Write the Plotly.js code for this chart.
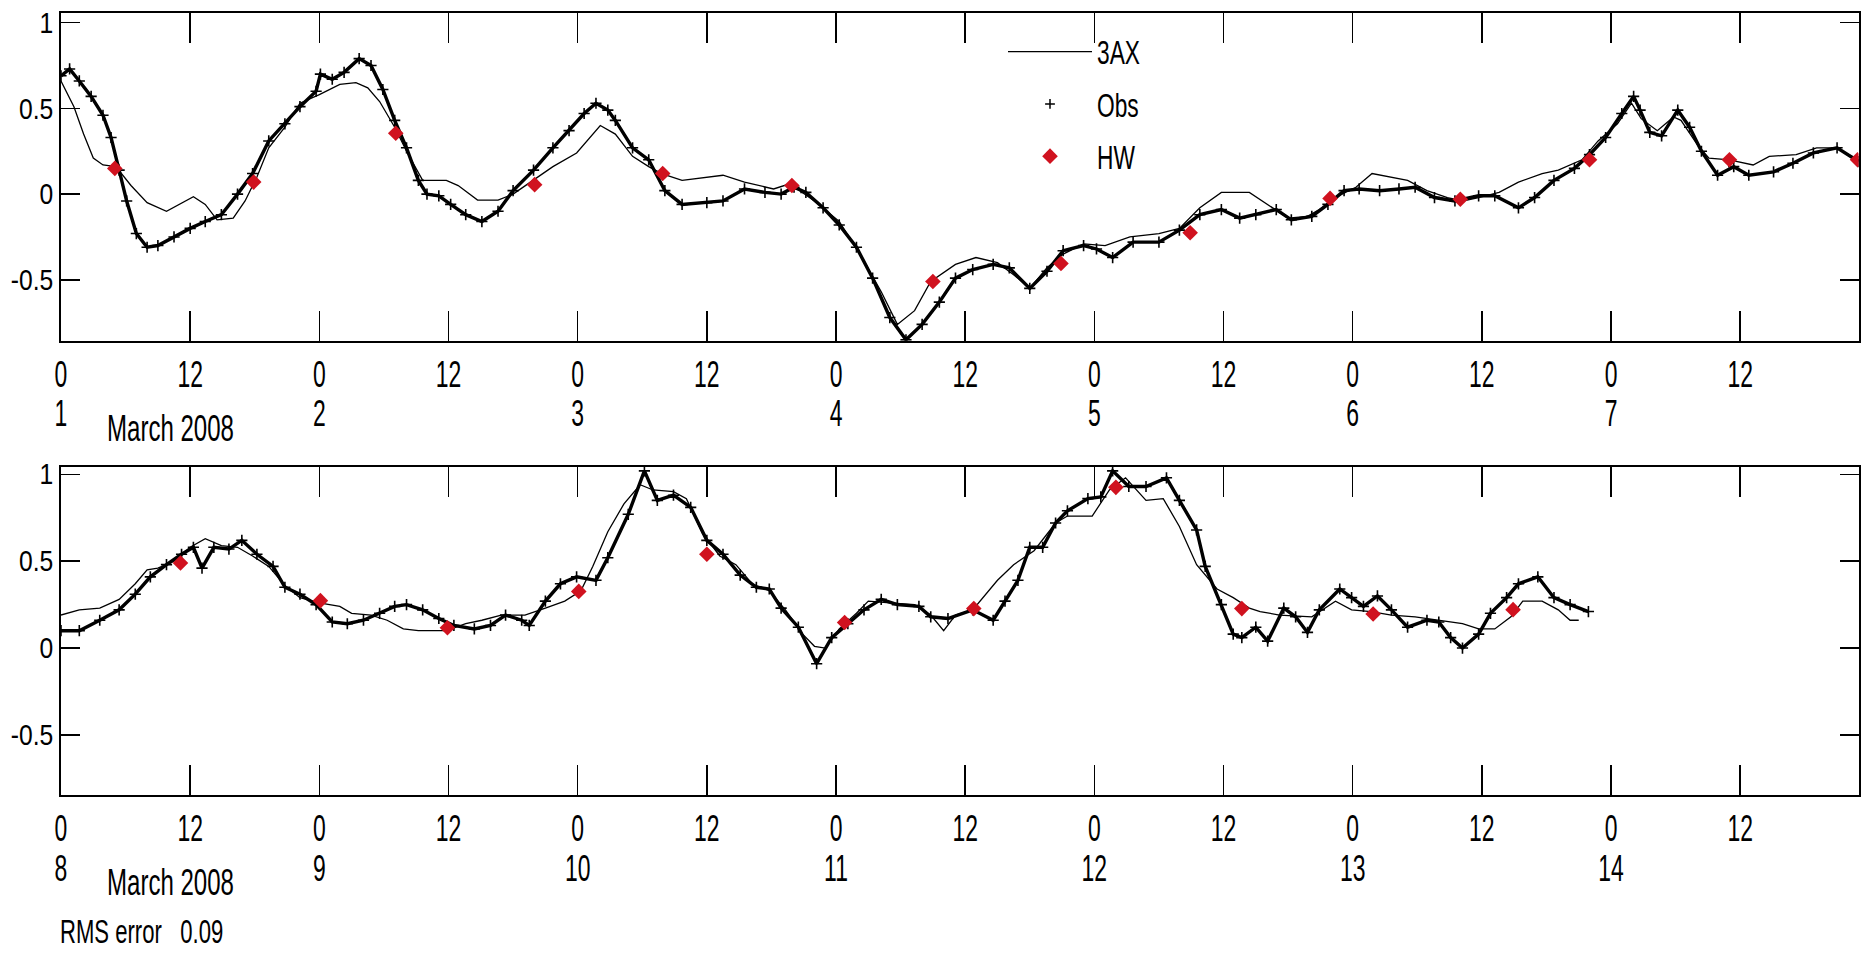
<!DOCTYPE html>
<html>
<head>
<meta charset="utf-8">
<script src="https://cdn.plot.ly/plotly-3.0.1.min.js"></script>
<style>
html,body{margin:0;padding:0;background:#fff;}
#chart{width:1863px;height:953px;}
</style>
</head>
<body>
<div id="chart"></div>
<script>
// ---------- Data (hours since 1 March 2008 00:00) ----------
// Week 1 (1-7 March)
const modelHoursW1 = [0,1.2,2.1,3.0,3.9,5.1,6.5,8.0,9.8,11.2,12.3,13.4,14.5,16.0,17.1,18.2,19.3,20.8,22.2,24.0,25.9,27.4,28.5,29.6,31.0,32.1,33.6,35.8,36.9,38.7,40.6,42.0,43.9,45.7,47.9,50.1,51.5,53.1,54.6,55.8,57.7,61.5,63.5,66.2,67.7,70.0,72.3,74.6,76.2,77.7,79.3,80.8,83.1,85.0,87.0,88.5,90.0,91.6,93.1,95.0,97.0,99.3,102.0,103.9,105.8,107.8,110.4,112.1,114.0,115.8,116.9,118.4,120.3,121.8,123.6,125.1,126.9,128.8,130.2,131.7,133.6,135.4,137.6,139.1,141.3,142.8,144.6,145.9,146.8,148.3,149.8,150.5,152.0,153.1,155.0,157.2,158.7,161.2,163.1,164.9,167.0];
const modelW1 = [0.66,0.51,0.35,0.21,0.17,0.16,0.05,-0.05,-0.10,-0.05,-0.015,-0.06,-0.15,-0.14,-0.04,0.10,0.27,0.39,0.53,0.58,0.64,0.65,0.62,0.54,0.39,0.25,0.08,0.08,0.05,-0.035,-0.035,0.0,0.08,0.16,0.24,0.40,0.35,0.22,0.16,0.12,0.08,0.11,0.07,0.03,0.06,-0.04,-0.16,-0.39,-0.57,-0.76,-0.68,-0.51,-0.41,-0.37,-0.40,-0.47,-0.55,-0.43,-0.35,-0.29,-0.30,-0.25,-0.23,-0.20,-0.08,0.01,0.01,-0.06,-0.14,-0.13,-0.09,-0.02,0.04,0.12,0.10,0.08,0.02,-0.02,-0.04,-0.02,0.01,0.07,0.12,0.14,0.20,0.31,0.41,0.53,0.44,0.37,0.45,0.43,0.29,0.21,0.20,0.17,0.22,0.23,0.27,0.27,0.20];
const obsHoursW1 = [0,0.8,1.7,2.8,3.9,4.65,5.4,6.1,7.0,8.0,9.0,10.5,12.0,13.4,14.9,16.4,17.8,19.3,20.8,22.2,23.7,24.1,25.2,26.3,27.7,28.8,29.9,31.0,32.1,33.2,34.0,35.1,36.2,37.6,39.1,40.6,42.0,43.9,45.7,47.2,48.6,49.7,50.8,51.5,53.1,54.6,56.1,57.7,60.0,61.5,63.5,65.4,66.9,68.1,69.2,70.8,72.3,73.9,75.4,77.0,78.5,80.0,81.6,83.1,84.7,86.6,88.1,90.0,91.6,93.1,95.0,96.2,97.7,99.6,102.0,103.9,105.8,107.8,109.5,111.0,112.9,114.3,116.2,117.7,119.2,120.6,122.5,124.3,125.8,127.6,129.5,131.7,133.2,135.4,136.9,138.7,140.6,142.0,143.5,145.0,146.1,146.7,147.6,148.7,150.2,151.3,152.4,153.9,155.4,156.8,159.1,160.9,162.8,165.0,167.0];
const obsW1 = [0.69,0.73,0.66,0.57,0.46,0.33,0.14,-0.04,-0.23,-0.31,-0.30,-0.25,-0.20,-0.16,-0.12,0.0,0.12,0.31,0.41,0.51,0.60,0.70,0.67,0.71,0.79,0.75,0.61,0.43,0.27,0.08,0.0,-0.01,-0.06,-0.12,-0.16,-0.10,0.02,0.14,0.27,0.37,0.47,0.53,0.49,0.43,0.27,0.20,0.02,-0.06,-0.05,-0.04,0.03,0.01,0.0,0.04,0.01,-0.08,-0.18,-0.31,-0.49,-0.72,-0.85,-0.76,-0.63,-0.49,-0.44,-0.41,-0.43,-0.55,-0.45,-0.33,-0.30,-0.32,-0.37,-0.28,-0.28,-0.21,-0.12,-0.09,-0.14,-0.12,-0.09,-0.15,-0.13,-0.06,0.02,0.03,0.02,0.03,0.04,-0.02,-0.04,-0.01,-0.01,-0.08,-0.02,0.08,0.15,0.23,0.33,0.47,0.57,0.49,0.36,0.34,0.49,0.39,0.25,0.11,0.16,0.11,0.13,0.18,0.24,0.27,0.19];
const hwHoursW1 = [5.0,17.9,31.1,44.0,55.9,67.9,81.0,92.9,104.9,117.9,130.0,142.0,155.0,166.9];
const hwW1 = [0.15,0.07,0.355,0.055,0.12,0.05,-0.51,-0.405,-0.225,-0.025,-0.03,0.2,0.2,0.2];

// Week 2 (8-14 March)
const modelHoursW2 = [168.0,169.7,171.6,173.4,174.9,176.0,177.0,178.5,180.0,181.4,182.9,184.4,185.8,187.3,188.8,190.2,192.0,193.9,195.0,196.8,198.3,199.8,201.2,203.8,205.6,207.1,208.9,211.1,213.0,214.8,216.3,217.4,218.8,220.3,221.8,223.0,224.9,226.1,227.6,229.2,230.7,232.2,233.8,235.3,236.9,238.0,239.0,240.3,241.9,243.0,245.0,247.3,248.8,250.0,251.1,252.7,255.0,256.5,258.4,260.4,261.5,263.8,265.4,266.9,268.8,270.4,271.9,273.5,275.4,276.9,278.4,279.4,281.2,284.2,286.4,287.9,289.7,291.6,293.8,296.0,298.2,299.7,301.2,302.7,303.8,305.6,307.1,308.2,309.0];
const modelW2 = [0.19,0.22,0.23,0.28,0.37,0.45,0.46,0.50,0.58,0.63,0.59,0.58,0.53,0.47,0.36,0.29,0.26,0.24,0.20,0.19,0.16,0.11,0.10,0.10,0.14,0.16,0.19,0.19,0.23,0.27,0.33,0.47,0.67,0.83,0.94,0.91,0.90,0.86,0.66,0.53,0.48,0.37,0.33,0.22,0.08,0.01,0.0,0.11,0.20,0.27,0.26,0.25,0.19,0.10,0.19,0.22,0.39,0.48,0.56,0.72,0.76,0.76,0.91,0.98,0.85,0.86,0.70,0.48,0.34,0.29,0.23,0.21,0.19,0.18,0.27,0.22,0.21,0.19,0.18,0.16,0.14,0.11,0.11,0.18,0.27,0.27,0.22,0.16,0.16];
const obsHoursW2 = [168.0,169.7,171.6,173.4,174.9,176.3,177.8,179.2,180.3,181.1,182.2,183.6,184.8,186.2,187.7,188.8,190.2,191.7,193.2,194.6,196.1,197.6,199.0,200.1,201.6,203.1,204.5,206.4,207.9,209.3,210.8,211.5,213.0,214.4,215.9,217.7,218.8,220.7,222.2,223.4,224.9,226.5,228.0,229.5,231.1,232.6,233.8,234.9,236.5,238.2,239.6,241.1,242.6,244.2,245.7,247.7,248.8,250.4,252.7,254.6,255.7,256.9,258.0,259.2,260.4,261.5,263.4,264.6,265.7,267.2,268.8,270.7,271.9,273.5,274.3,275.8,276.9,277.7,279.0,280.1,281.6,282.7,283.8,284.9,286.8,287.9,289.0,290.3,291.6,293.1,294.9,296.0,297.1,298.2,299.7,300.8,302.3,303.4,305.2,306.7,308.2,309.9];
const obsW2 = [0.10,0.10,0.16,0.22,0.31,0.41,0.48,0.54,0.58,0.46,0.58,0.57,0.62,0.54,0.47,0.35,0.31,0.25,0.15,0.14,0.16,0.20,0.24,0.25,0.22,0.17,0.13,0.11,0.13,0.19,0.16,0.13,0.27,0.37,0.41,0.39,0.52,0.77,1.02,0.85,0.88,0.81,0.62,0.54,0.42,0.35,0.34,0.23,0.12,-0.09,0.06,0.14,0.22,0.28,0.25,0.24,0.18,0.17,0.22,0.16,0.27,0.39,0.58,0.58,0.72,0.79,0.86,0.87,1.02,0.93,0.93,0.98,0.85,0.68,0.47,0.25,0.08,0.06,0.12,0.04,0.23,0.18,0.09,0.22,0.34,0.29,0.24,0.30,0.22,0.12,0.16,0.15,0.06,0.0,0.08,0.20,0.29,0.37,0.41,0.29,0.25,0.21];
const hwHoursW2 = [179.1,192.1,203.9,216.1,228.0,240.8,252.8,266.0,277.7,289.9,302.9];
const hwW2 = [0.49,0.273,0.117,0.326,0.54,0.147,0.227,0.925,0.227,0.196,0.221];

// Tick labels
const hourLabels = ['0','12'];
const dayLabelsW1 = ['1','2','3','4','5','6','7'];
const dayLabelsW2 = ['8','9','10','11','12','13','14'];
const yTickVals = [-0.5,0,0.5,1];
const yTickText = ['-0.5','0','0.5','1'];
const monthLabel = 'March 2008';
const rmsLabel = 'RMS error&nbsp;&nbsp;&nbsp;0.09';

// ---------- Styling ----------
const FONT = "'Liberation Sans',Arial,sans-serif";
const RED = '#d0121f';

function xTicks(startHour, days){
  const vals=[], text=[];
  days.forEach((d,i)=>{
    vals.push(startHour+24*i);     text.push(hourLabels[0]+'<br>'+d);
    vals.push(startHour+24*i+12);  text.push(hourLabels[1]);
  });
  return {vals, text};
}
const t1 = xTicks(0, dayLabelsW1);
const t2 = xTicks(168, dayLabelsW2);

const obsMarker = {symbol:'cross-thin', size:8, line:{color:'#000', width:1.6}};
const traces = [
  {x: modelHoursW1, y: modelW1, xaxis:'x', yaxis:'y', mode:'lines', name:'3AX',
   line:{color:'#000', width:1.3}, legendgroup:'a'},
  {x: obsHoursW1, y: obsW1, xaxis:'x', yaxis:'y', mode:'lines+markers', name:'Obs', showlegend:false,
   line:{color:'#000', width:3.4}, marker:obsMarker},
  {x: [null], y: [null], xaxis:'x', yaxis:'y', mode:'markers', name:'Obs', legendgroup:'b',
   marker:{symbol:'cross-thin', size:7, line:{color:'#000', width:1.5}}},
  {x: hwHoursW1, y: hwW1, xaxis:'x', yaxis:'y', mode:'markers', name:'HW', legendgroup:'c',
   marker:{symbol:'diamond', size:12, color:RED, line:{width:0}}},

  {x: modelHoursW2, y: modelW2, xaxis:'x2', yaxis:'y2', mode:'lines', name:'3AX', showlegend:false,
   line:{color:'#000', width:1.3}},
  {x: obsHoursW2, y: obsW2, xaxis:'x2', yaxis:'y2', mode:'lines+markers', name:'Obs', showlegend:false,
   line:{color:'#000', width:3.4}, marker:obsMarker},
  {x: hwHoursW2, y: hwW2, xaxis:'x2', yaxis:'y2', mode:'markers', name:'HW', showlegend:false,
   marker:{symbol:'diamond', size:12, color:RED, line:{width:0}}}
];

const xDomain = [61/1863, 1858.6/1863];
function xAxis(range, t, anchor){
  return {domain:xDomain, range:range, anchor:anchor, tickmode:'array', tickvals:t.vals, ticktext:t.text,
    ticks:'inside', ticklen:30, tickwidth:1.5, tickcolor:'#000', showline:true, linewidth:2, linecolor:'#000',
    mirror:'ticks', showgrid:false, zeroline:false, ticklabelstandoff:0, tickangle:0,
    tickfont:{family:FONT, size:37, color:'#000'}};
}
function yAxis(domain, range, anchor){
  return {domain:domain, range:range, anchor:anchor, tickmode:'array', tickvals:yTickVals, ticktext:yTickText,
    ticks:'inside', ticklen:19, tickwidth:1.5, tickcolor:'#000', showline:true, linewidth:2, linecolor:'#000',
    mirror:'ticks', showgrid:false, zeroline:false, ticklabelstandoff:0,
    tickfont:{family:FONT, size:29, color:'#000'}};
}

const annotations = [
  {xref:'paper', yref:'paper', x:105/1863, y:1-428/953, xanchor:'left', yanchor:'middle', align:'left',
   text:monthLabel, showarrow:false, font:{family:FONT, size:37, color:'#000'}},
  {xref:'paper', yref:'paper', x:105/1863, y:1-882/953, xanchor:'left', yanchor:'middle', align:'left',
   text:monthLabel, showarrow:false, font:{family:FONT, size:37, color:'#000'}},
  {xref:'paper', yref:'paper', x:58/1863, y:1-931/953, xanchor:'left', yanchor:'middle', align:'left',
   text:rmsLabel, showarrow:false, font:{family:FONT, size:34, color:'#000'}}
];

const layout = {
  width:1863, height:953,
  margin:{l:0, r:0, t:0, b:0},
  paper_bgcolor:'#fff', plot_bgcolor:'#fff',
  showlegend:true,
  hovermode:false,
  font:{family:FONT, color:'#000'},
  xaxis: xAxis([0,167], t1, 'y'),
  yaxis: yAxis([1-340.7/953, 1-12.7/953], [-0.855,1.058], 'x'),
  xaxis2: xAxis([168,335], t2, 'y2'),
  yaxis2: yAxis([1-795/953, 1-466.7/953], [-0.846,1.044], 'x2'),
  legend:{x:1003/1863, y:1-24/953, xanchor:'left', yanchor:'top', bgcolor:'rgba(0,0,0,0)',
    borderwidth:0, font:{family:FONT, size:32.5, color:'#000'}, tracegroupgap:7, itemwidth:84,
    traceorder:'grouped'},
  annotations: annotations
};

// Tighter line spacing for the two-line (hour / day) tick labels
function tightenLines(selector, em){
  document.querySelectorAll(selector).forEach(t=>{
    const lines = t.querySelectorAll('tspan.line');
    for(let i=1;i<lines.length;i++) lines[i].setAttribute('dy', (i*em)+'em');
  });
}
// Horizontally condense text (the reference uses a tall, narrow typeface)
function condense(selector, k){
  document.querySelectorAll(selector).forEach(t=>{
    const b = t.getBBox();
    const a = t.getAttribute('text-anchor') || 'start';
    const x0 = a==='middle' ? b.x + b.width/2 : (a==='end' ? b.x + b.width : b.x);
    const tr = t.getAttribute('transform') || '';
    t.setAttribute('transform', tr + ' translate(' + x0 + ',0) scale(' + k + ',1) translate(' + (-x0) + ',0)');
  });
}

Plotly.newPlot('chart', traces, layout, {displayModeBar:false, staticPlot:true}).then(()=>{
  tightenLines('.xtick text, .x2tick text', 1.06);
  condense('.xtick text, .x2tick text', 0.62);
  condense('.ytick text, .y2tick text', 0.85);
  condense('.legendtext', 0.70);
  condense('.annotation-text', 0.65);
});
</script>
</body>
</html>
